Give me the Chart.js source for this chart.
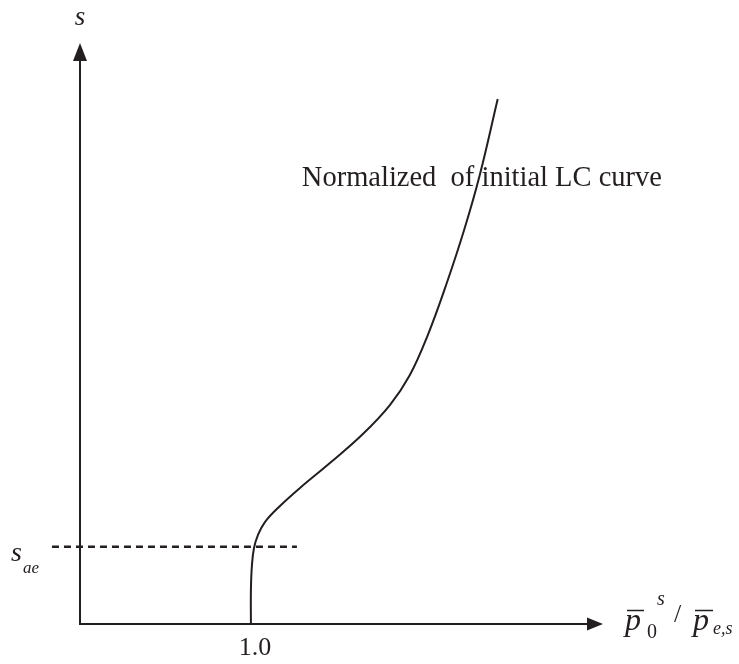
<!DOCTYPE html>
<html>
<head>
<meta charset="utf-8">
<script src="https://cdn.jsdelivr.net/npm/chart.js@4.4.1/dist/chart.umd.min.js"></script>
<style>
  html, body { margin: 0; padding: 0; background: #ffffff; }
  #wrap { width: 739px; height: 664px; }
</style>
</head>
<body>
<div id="wrap"><canvas id="lc" width="739" height="664"></canvas></div>
<script>
// normalised LC curve: p0^s / pe,s  against  s
const ratio = [1.0, 1.0, 1.006, 1.018, 1.041, 1.082, 1.170, 1.287, 1.462, 1.655, 1.813, 1.930, 2.035, 2.146, 2.251, 2.339, 2.444];
const sVals = [0, 0.339, 0.589, 0.759, 0.888, 1.018, 1.178, 1.358, 1.607, 1.897, 2.186, 2.486, 2.885, 3.404, 3.953, 4.482, 5.241];

// s_ae level (dashed)
const saeLevel = 0.77;
const saeX = [-0.164, 1.269];

// ticks on the ratio axis
const xTicks = [1.0];
const xTickLabels = ['1.0'];

const ink = '#231f20';
const serif = '"Liberation Serif", "Times New Roman", serif';

const curvePts = ratio.map((r, i) => ({ x: r, y: sVals[i] }));
const saePts = saeX.map(x => ({ x: x, y: saeLevel }));

// axes with arrow heads, tick labels and the math labels
const decor = {
    id: 'decor',
    afterDatasetsDraw(chart) {
        const c = chart.ctx;
        const xs = chart.scales.x;
        const ys = chart.scales.y;
        const area = chart.chartArea;
        const ox = xs.getPixelForValue(0);
        const oy = ys.getPixelForValue(0);

        c.save();
        c.strokeStyle = ink;
        c.fillStyle = ink;
        c.lineWidth = 2;

        // y axis
        c.beginPath();
        c.moveTo(ox, oy + 1);
        c.lineTo(ox, area.top + 14);
        c.stroke();
        c.beginPath();
        c.moveTo(ox, area.top);
        c.lineTo(ox - 7, area.top + 18);
        c.lineTo(ox + 7, area.top + 18);
        c.closePath();
        c.fill();

        // x axis
        c.beginPath();
        c.moveTo(ox - 1, oy);
        c.lineTo(area.right - 12, oy);
        c.stroke();
        c.beginPath();
        c.moveTo(area.right, oy);
        c.lineTo(area.right - 16, oy - 6.5);
        c.lineTo(area.right - 16, oy + 6.5);
        c.closePath();
        c.fill();

        // tick labels
        c.font = '26px ' + serif;
        c.textAlign = 'center';
        c.textBaseline = 'alphabetic';
        xTicks.forEach((t, i) => {
            c.fillText(xTickLabels[i], xs.getPixelForValue(t) + 4, oy + 31);
        });

        // axis name: s
        c.font = 'italic 27px ' + serif;
        c.fillText('s', ox, 25);

        // s_ae
        const sy = ys.getPixelForValue(saeLevel);
        c.textAlign = 'left';
        c.font = 'italic 28px ' + serif;
        c.fillText('s', 11, sy + 14);
        c.font = 'italic 17px ' + serif;
        c.fillText('ae', 23, sy + 26);

        // ratio axis name: p0^s / pe,s
        const bx = area.right + 22;
        c.font = 'italic 32px ' + serif;
        c.fillText('p', bx, 630);
        c.fillText('p', bx + 68, 630);
        c.lineWidth = 1.6;
        c.beginPath();
        c.moveTo(bx + 2, 610.5);
        c.lineTo(bx + 19, 610.5);
        c.moveTo(bx + 70, 610.5);
        c.lineTo(bx + 88, 610.5);
        c.stroke();
        c.font = '20px ' + serif;
        c.fillText('0', bx + 22, 638);
        c.font = 'italic 20px ' + serif;
        c.fillText('s', bx + 32, 605);
        c.font = '26px ' + serif;
        c.fillText('/', bx + 49, 622);
        c.font = 'italic 18px ' + serif;
        c.fillText('e,s', bx + 88, 634);

        // curve caption
        c.font = '28.5px ' + serif;
        c.fillText('Normalized  of initial LC curve', xs.getPixelForValue(1.298), ys.getPixelForValue(4.373));

        c.restore();
    }
};

new Chart(document.getElementById('lc'), {
    type: 'scatter',
    data: {
        datasets: [
            {
                label: 'Normalized of initial LC curve',
                data: curvePts,
                showLine: true,
                borderColor: ink,
                borderWidth: 2,
                tension: 0.4,
                pointRadius: 0,
                clip: false
            },
            {
                label: 's_ae',
                data: saePts,
                showLine: true,
                borderColor: ink,
                borderWidth: 2.5,
                borderDash: [7, 5],
                pointRadius: 0,
                clip: false
            }
        ]
    },
    options: {
        responsive: false,
        animation: false,
        layout: { padding: { left: 80, right: 136, top: 43, bottom: 40 } },
        plugins: {
            legend: { display: false },
            tooltip: { enabled: false }
        },
        scales: {
            x: { type: 'linear', min: 0, max: 3.06, display: false },
            y: { type: 'linear', min: 0, max: 5.8, display: false }
        }
    },
    plugins: [decor]
});
</script>
</body>
</html>
